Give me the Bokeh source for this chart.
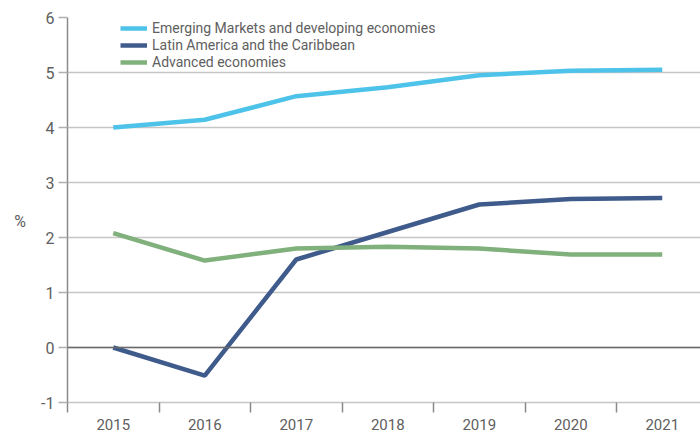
from bokeh.plotting import figure
from bokeh.models import Range1d, FixedTicker, Legend, LegendItem, Span
from bokeh.embed import file_html
from bokeh.resources import INLINE

years = ["2015", "2016", "2017", "2018", "2019", "2020", "2021"]
emerging = [4.00, 4.14, 4.57, 4.73, 4.95, 5.03, 5.05]
latam = [0.00, -0.51, 1.60, 2.10, 2.60, 2.70, 2.72]
advanced = [2.08, 1.58, 1.80, 1.83, 1.80, 1.69, 1.69]
y_ticks = [-1, 0, 1, 2, 3, 4, 5, 6]

names = ["Emerging Markets and developing economies",
         "Latin America and the Caribbean",
         "Advanced economies"]
colors = ["#4EC3EA", "#3F5B8B", "#80B07B"]

FONT = "Roboto"
TXT = "#606060"

x = list(range(len(years)))

p = figure(width=700, height=432, output_backend="svg", toolbar_location=None,
           x_range=Range1d(-0.5, 6.418), y_range=Range1d(-1, 6),
           min_border_left=67, min_border_right=0, min_border_top=17,
           min_border_bottom=10)
p.outline_line_color = None
p.background_fill_color = "white"
p.border_fill_color = "white"

# grid
p.xgrid.grid_line_color = None
p.ygrid.ticker = FixedTicker(ticks=y_ticks)
p.ygrid.grid_line_color = "#c6c6c6"
p.ygrid.grid_line_width = 1.5

# zero line
p.add_layout(Span(location=0, dimension="width", line_color="#6a6a6a", line_width=1.5))

# y axis
p.yaxis.ticker = FixedTicker(ticks=y_ticks)
p.yaxis.major_label_overrides = {t: str(t) for t in y_ticks}
p.yaxis.axis_line_color = "#8a8a8a"
p.yaxis.axis_line_width = 1.5
p.yaxis.major_tick_line_color = "#b0b0b0"
p.yaxis.major_tick_line_width = 1.5
p.yaxis.major_tick_out = 9
p.yaxis.major_tick_in = 0
p.yaxis.minor_tick_line_color = None
p.yaxis.major_label_text_font = FONT
p.yaxis.major_label_text_font_size = "16px"
p.yaxis.major_label_text_color = TXT
p.yaxis.major_label_standoff = 4
p.yaxis.axis_label = "\n%"
p.yaxis.axis_label_orientation = "horizontal"
p.yaxis.axis_label_text_font = FONT
p.yaxis.axis_label_text_font_style = "normal"
p.yaxis.axis_label_text_font_size = "16px"
p.yaxis.axis_label_text_color = TXT
p.yaxis.axis_label_standoff = 12

# x axis: labels at centres, ticks between categories
p.xaxis.ticker = FixedTicker(ticks=x, minor_ticks=[i - 0.5 for i in range(len(years) + 1)])
p.xaxis.major_label_overrides = {i: y for i, y in enumerate(years)}
p.xaxis.axis_line_color = "#c6c6c6"
p.xaxis.axis_line_width = 1.5
p.xaxis.major_tick_line_color = None
p.xaxis.major_tick_out = 0
p.xaxis.major_tick_in = 0
p.xaxis.minor_tick_line_color = "#8a8a8a"
p.xaxis.minor_tick_line_width = 1.5
p.xaxis.minor_tick_out = 10
p.xaxis.minor_tick_in = 0
p.xaxis.major_label_text_font = FONT
p.xaxis.major_label_text_font_size = "15px"
p.xaxis.major_label_text_color = TXT
p.xaxis.major_label_standoff = 6

renderers = []
for series, c in zip([emerging, latam, advanced], colors):
    r = p.line(x, series, line_color=c, line_width=4.5)
    renderers.append(r)

legend = Legend(items=[LegendItem(label=n, renderers=[r]) for n, r in zip(names, renderers)],
                location=(53, 332), orientation="vertical",
                border_line_color=None, background_fill_alpha=0,
                padding=0, margin=0, spacing=1,
                glyph_width=27, glyph_height=16, label_height=16,
                label_standoff=5,
                label_text_font=FONT, label_text_font_size="14px",
                label_text_color=TXT)
p.add_layout(legend)

open("out.html", "w").write(file_html(p, INLINE))
